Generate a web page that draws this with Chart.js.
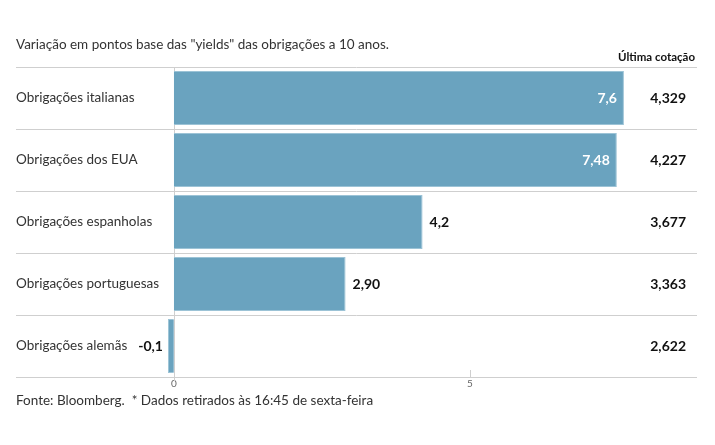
<!DOCTYPE html>
<html><head><meta charset="utf-8">
<script src="https://cdn.jsdelivr.net/npm/chart.js@4"></script>
<style>html,body{margin:0;padding:0;background:#fff}#wrap{width:715px;height:445px;position:relative}</style>
</head><body><div id="wrap"><canvas id="c" width="715" height="445"></canvas></div>
<script>
const categories = ["Obrigações italianas","Obrigações dos EUA","Obrigações espanholas","Obrigações portuguesas","Obrigações alemãs"];
const variation = [7.6, 7.48, 4.2, 2.9, -0.1];
const variationLabels = ["7,6","7,48","4,2","2,90","-0,1"];
const lastQuote = ["4,329","4,227","3,677","3,363","2,622"];
const xTicks = [0, 5];
const titleText = 'Variação em pontos base das "yields" das obrigações a 10 anos.';
const quoteHeader = "Última cotação";
const footerText = "Fonte: Bloomberg.  * Dados retirados às 16:45 de sexta-feira";

const FONT = "Lato, 'Open Sans', sans-serif";
const LEFT = 16, RIGHT_EDGE = 697;

const deco = {
  id: 'deco',
  beforeDatasetsDraw(chart) {
    const ctx = chart.ctx, y = chart.scales.y, x = chart.scales.x, a = chart.chartArea;
    ctx.save();
    ctx.strokeStyle = '#cfcfcf'; ctx.lineWidth = 1;
    for (let i = 0; i <= categories.length; i++) {
      const py = Math.round(y.getPixelForValue(i - 0.5)) + 0.5;
      ctx.beginPath(); ctx.moveTo(LEFT, py); ctx.lineTo(RIGHT_EDGE, py); ctx.stroke();
    }
    const z = Math.round(x.getPixelForValue(0)) + 0.5;
    ctx.beginPath(); ctx.moveTo(z, a.top); ctx.lineTo(z, a.bottom + 4); ctx.stroke();
    xTicks.forEach(v => { if (v === 0) return;
      const px = Math.round(x.getPixelForValue(v)) + 0.5;
      ctx.beginPath(); ctx.moveTo(px, a.bottom - 7); ctx.lineTo(px, a.bottom); ctx.stroke();
    });
    ctx.restore();
  },
  afterDraw(chart) {
    const ctx = chart.ctx, y = chart.scales.y, x = chart.scales.x;
    ctx.save();
    ctx.fillStyle = '#333'; ctx.textBaseline = 'middle';
    ctx.font = "13.5px " + FONT; ctx.textAlign = 'left';
    ctx.fillText(titleText, LEFT, 45);
    ctx.fillText(footerText, LEFT, 401);
    ctx.font = "bold 11.5px " + FONT; ctx.textAlign = 'right'; ctx.fillStyle = '#111';
    ctx.fillText(quoteHeader, 695, 57);
    ctx.font = "bold 14px " + FONT;
    variation.forEach((v, i) => {
      const py = y.getPixelForValue(i);
      ctx.fillStyle = '#111'; ctx.textAlign = 'right';
      ctx.fillText(lastQuote[i], 686, py);
      const end = x.getPixelForValue(v);
      if (v < 0) { ctx.textAlign = 'right'; ctx.fillStyle = '#111'; ctx.fillText(variationLabels[i], end - 5, py); }
      else if (v > 6) { ctx.textAlign = 'right'; ctx.fillStyle = '#fff'; ctx.fillText(variationLabels[i], end - 7, py); }
      else { ctx.textAlign = 'left'; ctx.fillStyle = '#111'; ctx.fillText(variationLabels[i], end + 7, py); }
    });
    ctx.restore();
  }
};

new Chart(document.getElementById('c'), {
  type: 'bar',
  data: { labels: categories, datasets: [{ data: variation, backgroundColor: '#6aa3bf', borderColor: '#9cc3d6', borderWidth: 1, barPercentage: 0.87, categoryPercentage: 1 }] },
  options: {
    indexAxis: 'y', responsive: false, animation: false,
    layout: { padding: { left: LEFT, right: 20, top: 67, bottom: 0 } },
    plugins: { legend: { display: false }, tooltip: { enabled: false }, title: { display: false } },
    scales: {
      x: {
        min: -0.2, max: 8.8,
        afterBuildTicks(s) { s.ticks = xTicks.map(v => ({ value: v })); },
        afterFit(s) { s.height = 68; },
        grid: { display: false, drawTicks: false },
        border: { display: true, color: '#cfcfcf' },
        ticks: { padding: 1, color: '#666', font: { family: FONT, size: 10 }, callback: v => String(v) }
      },
      y: {
        afterFit(s) { s.width = 146; },
        grid: { display: false, drawTicks: false },
        border: { display: false },
        ticks: { crossAlign: 'far', padding: 0, color: '#333', font: { family: FONT, size: 13.5 } }
      }
    }
  },
  plugins: [deco]
});
</script></body></html>
